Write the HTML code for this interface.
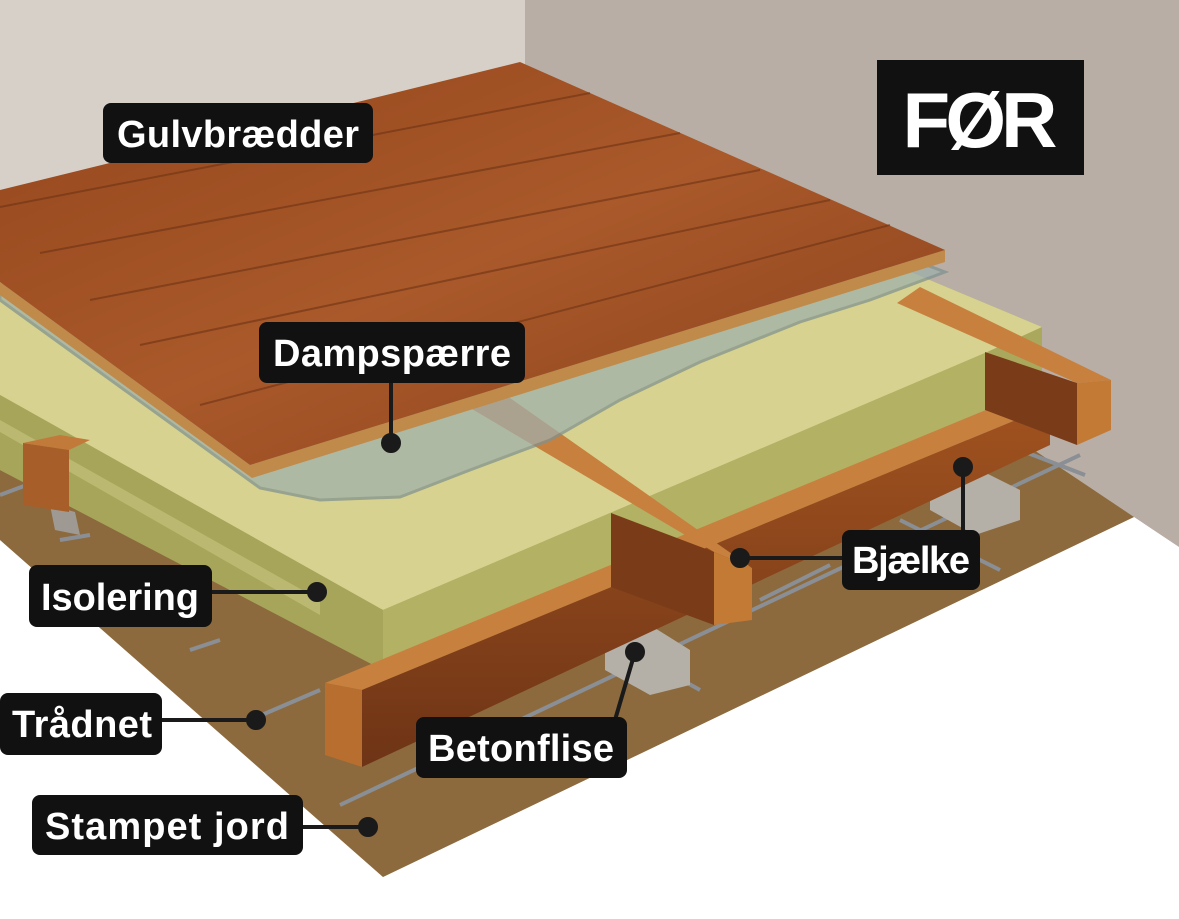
<!DOCTYPE html>
<html><head><meta charset="utf-8"><style>
body{margin:0;width:1179px;height:919px;overflow:hidden;background:#fff}
svg{display:block}
.lb{font-family:"Liberation Sans Narrow","Liberation Sans",sans-serif;font-weight:bold;fill:#fff}
</style></head><body>
<svg width="1179" height="919" viewBox="0 0 1179 919" xmlns="http://www.w3.org/2000/svg">
<defs>
<linearGradient id="wood" x1="0" y1="0" x2="1" y2="1">
<stop offset="0" stop-color="#94461c"/><stop offset="0.5" stop-color="#a9592a"/><stop offset="1" stop-color="#8a401c"/></linearGradient>
<linearGradient id="beamS" x1="0" y1="0" x2="0" y2="1"><stop offset="0" stop-color="#a0521f"/><stop offset="1" stop-color="#6e3416"/></linearGradient>
</defs>
<rect width="1179" height="919" fill="#d6d0c9"/>
<polygon points="525,0 1179,0 1179,550 1134,517 1019,447 525,447" fill="#b8aea5"/>
<polygon points="1134,517 1179,547 1179,919 0,919 0,540 383,877" fill="#fff"/>
<polygon points="0,440 1019,440 1134,517 383,877 0,540" fill="#8c6a3d"/>
<g stroke="#8a8f96" stroke-width="4" fill="none">
<line x1="340" y1="805" x2="1080" y2="455"/>
<line x1="250" y1="720" x2="320" y2="690"/>
<line x1="760" y1="600" x2="830" y2="565"/>
<line x1="610" y1="640" x2="700" y2="690"/>
<line x1="900" y1="520" x2="1000" y2="570"/>
<line x1="1020" y1="450" x2="1085" y2="475"/>
<line x1="0" y1="495" x2="40" y2="480"/>
<line x1="60" y1="540" x2="90" y2="535"/>
<line x1="190" y1="650" x2="220" y2="640"/>
</g>
<polygon points="605,640 650,625 690,650 690,685 650,695 605,670" fill="#b4b0a8"/>
<polygon points="930,490 980,470 1020,490 1020,520 975,535 930,510" fill="#b4b0a8"/>
<polygon points="50,505 75,512 80,535 55,530" fill="#9e9a93"/>
<polygon points="0,290 870,255 1042,327 1042,420 985,410 383,670 0,470" fill="#a9a85c"/>
<polygon points="0,290 870,255 1042,327 985,353 383,610 0,395" fill="#d7d28f"/>
<polygon points="0,395 383,610 383,670 0,470" fill="#a6a55a"/>
<polygon points="0,420 320,600 320,615 0,432" fill="#c4c07a" opacity="0.7"/>
<polygon points="383,610 985,353 985,410 383,670" fill="#b3b164"/>
<polygon points="23,443 60,435 90,440 69,450" fill="#c17a3a"/>
<polygon points="23,443 69,450 69,512 23,505" fill="#a85e28"/>
<polygon points="325,683 1010,400 1040,410 362,690" fill="#c7803e"/>
<polygon points="362,690 1040,410 1050,430 1050,445 362,767" fill="url(#beamS)"/>
<polygon points="325,683 362,690 362,767 325,755" fill="#b86e2e"/>
<polygon points="897,303 920,287 1111,380 1077,383" fill="#c7803e"/>
<polygon points="985,352 1077,383 1077,445 985,410" fill="#7a3c18"/>
<polygon points="1077,383 1111,380 1111,430 1077,445" fill="#c37a35"/>
<polygon points="460,402 510,398 752,568 714,552" fill="#c7803e"/>
<polygon points="611,513 714,552 714,625 611,587" fill="#7a3c18"/>
<polygon points="714,552 752,568 752,620 714,625" fill="#c37a35"/>
<polygon points="0,285 860,250 900,255 945,272 870,300 800,322 700,362 620,400 550,440 470,470 400,497 320,500 260,488 0,300" fill="#9fb0ad" opacity="0.72" stroke="#7f918f" stroke-width="3"/>
<polygon points="0,282 250,465 945,250 945,262 252,478 0,295" fill="#c08a4a"/>
<polygon points="0,190 520,62 945,250 250,465 0,282" fill="url(#wood)"/>
<g stroke="#6e3314" stroke-width="2" opacity="0.6">
<line x1="0" y1="207" x2="590" y2="93"/>
<line x1="40" y1="253" x2="680" y2="133"/>
<line x1="90" y1="300" x2="760" y2="170"/>
<line x1="140" y1="345" x2="830" y2="200"/>
<line x1="200" y1="405" x2="890" y2="225"/>
</g>
<g stroke="#1a1a1a" stroke-width="4" fill="#1a1a1a">
<line x1="391" y1="380" x2="391" y2="443"/><circle cx="391" cy="443" r="8"/>
<line x1="210" y1="592" x2="317" y2="592"/><circle cx="317" cy="592" r="8"/>
<line x1="842" y1="558" x2="740" y2="558"/><circle cx="740" cy="558" r="8"/>
<line x1="963" y1="532" x2="963" y2="467"/><circle cx="963" cy="467" r="8"/>
<line x1="160" y1="720" x2="256" y2="720"/><circle cx="256" cy="720" r="8"/>
<line x1="615" y1="720" x2="635" y2="652"/><circle cx="635" cy="652" r="8"/>
<line x1="300" y1="827" x2="368" y2="827"/><circle cx="368" cy="827" r="8"/>
</g>
<g fill="#111">
<rect x="103" y="103" width="270" height="60" rx="8"/>
<rect x="877" y="60" width="207" height="115"/>
<rect x="259" y="322" width="266" height="61" rx="8"/>
<rect x="29" y="565" width="183" height="62" rx="8"/>
<rect x="842" y="530" width="138" height="60" rx="8"/>
<rect x="0" y="693" width="162" height="62" rx="8"/>
<rect x="416" y="717" width="211" height="61" rx="8"/>
<rect x="32" y="795" width="271" height="60" rx="8"/>
</g>
<text class="lb" x="238" y="147" font-size="38" text-anchor="middle" textLength="242">Gulvbrædder</text>
<text class="lb" x="980" y="147" font-size="78" text-anchor="middle" textLength="155">FØR</text>
<text class="lb" x="392" y="366" font-size="38" text-anchor="middle" textLength="238">Dampspærre</text>
<text class="lb" x="120" y="610" font-size="38" text-anchor="middle" textLength="158">Isolering</text>
<text class="lb" x="911" y="573" font-size="38" text-anchor="middle" textLength="118">Bjælke</text>
<text class="lb" x="82" y="737" font-size="38" text-anchor="middle" textLength="140">Trådnet</text>
<text class="lb" x="521" y="761" font-size="38" text-anchor="middle" textLength="186">Betonflise</text>
<text class="lb" x="167" y="839" font-size="38" text-anchor="middle" textLength="244">Stampet jord</text>
</svg>
</body></html>
